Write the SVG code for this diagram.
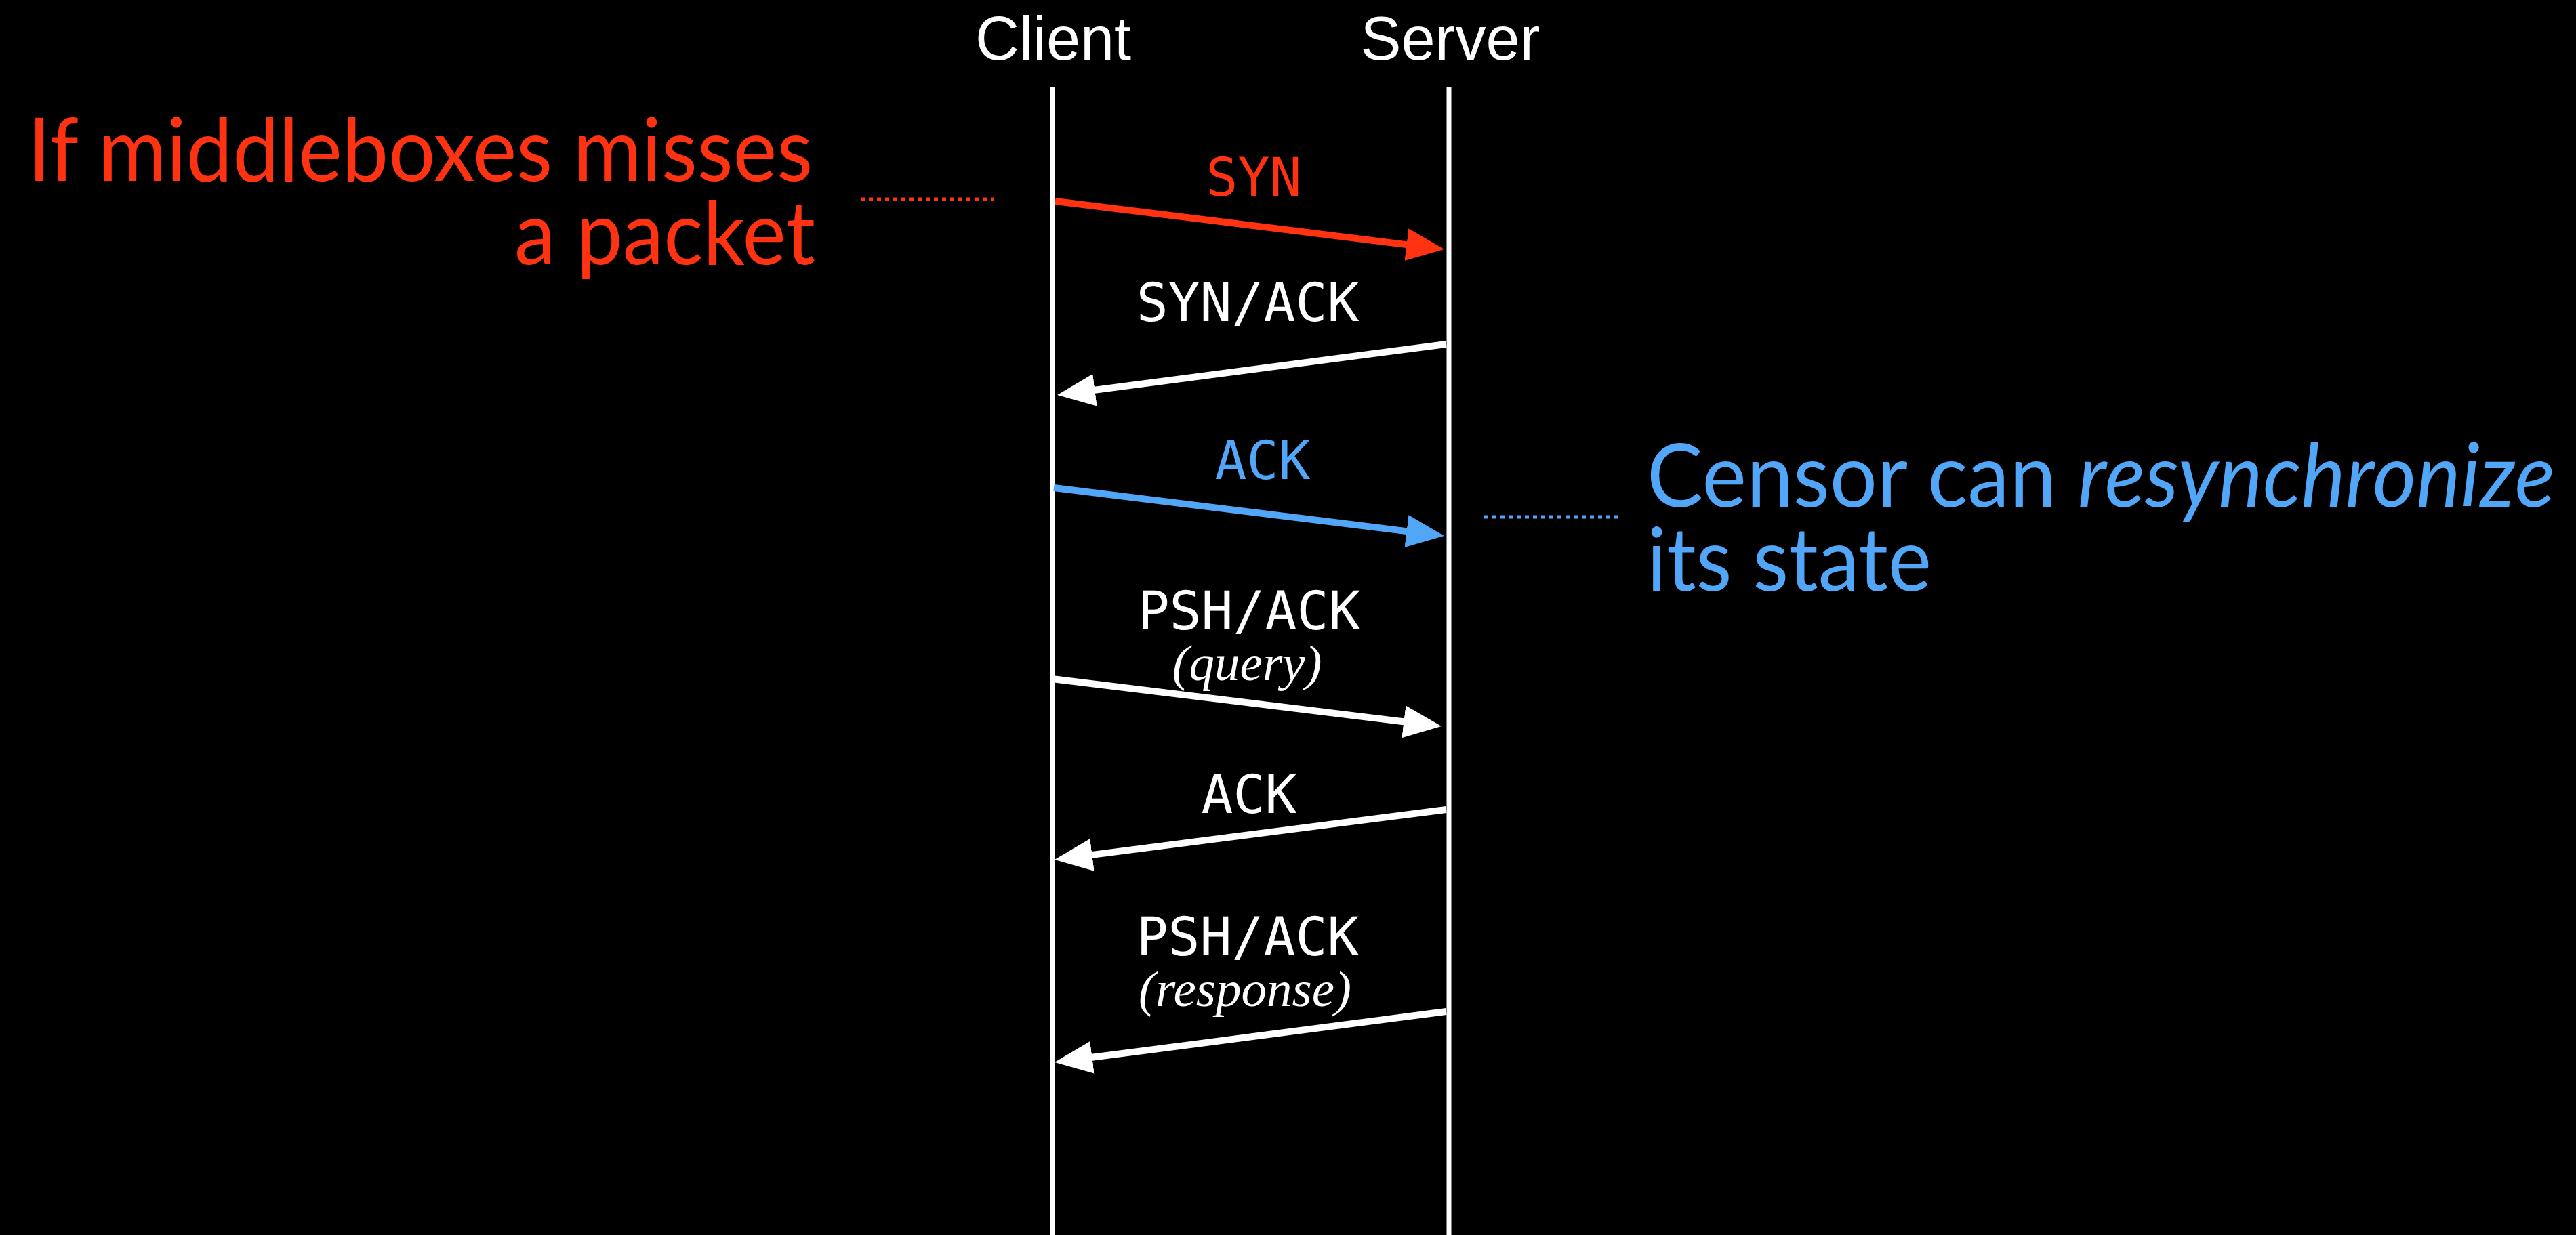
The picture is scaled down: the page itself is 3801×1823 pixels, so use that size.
<svg xmlns="http://www.w3.org/2000/svg" width="3801" height="1823" viewBox="0 0 3801 1823">
<style>
.hdr{font-family:"Liberation Sans",Arial,sans-serif;font-size:90px;fill:#fff;text-anchor:middle}
.lbl{font-family:"DejaVu Sans Mono","Liberation Mono",monospace;font-size:78px;text-anchor:middle}
.sub{font-family:"Liberation Serif","Times New Roman",serif;font-style:italic;font-size:75px;fill:#fff;text-anchor:middle}
.big{font-family:Lato,"Open Sans",sans-serif;font-size:130px}
.life{stroke:#fff;stroke-width:7;fill:none}
.msg{stroke-width:10;fill:none}
.w{fill:#fff}.r{fill:#FF3211}.b{fill:#52A6F8}
</style>
<defs>
<marker id="hw" markerUnits="userSpaceOnUse" markerWidth="56" markerHeight="48" refX="8" refY="24" orient="auto"><path d="M0,0 L56,24 L0,48 Z" fill="#fff"/></marker>
<marker id="hr" markerUnits="userSpaceOnUse" markerWidth="56" markerHeight="48" refX="8" refY="24" orient="auto"><path d="M0,0 L56,24 L0,48 Z" fill="#FF3211"/></marker>
<marker id="hb" markerUnits="userSpaceOnUse" markerWidth="56" markerHeight="48" refX="8" refY="24" orient="auto"><path d="M0,0 L56,24 L0,48 Z" fill="#52A6F8"/></marker>
</defs>
<rect x="0" y="0" width="3801" height="1823" fill="#000"/>
<g id="client">
<text class="hdr" x="1554" y="88">Client</text>
<line class="life" x1="1553" y1="128" x2="1553" y2="1823"/>
</g>
<g id="server">
<text class="hdr" x="2140" y="88">Server</text>
<line class="life" x1="2138" y1="128" x2="2138" y2="1823"/>
</g>
<g id="note-miss">
<text class="big r" text-anchor="end" x="1199" y="267" textLength="1158" lengthAdjust="spacingAndGlyphs">If middleboxes misses</text>
<text class="big r" text-anchor="end" x="1203" y="390" textLength="444" lengthAdjust="spacingAndGlyphs">a packet</text>
</g>
<g id="note-resync">
<text class="big b" x="2430" y="748" textLength="1340" lengthAdjust="spacingAndGlyphs">Censor can <tspan font-style="italic">resynchronize</tspan></text>
<text class="big b" x="2430" y="872" textLength="420" lengthAdjust="spacingAndGlyphs">its state</text>
</g>
<g id="connectors">
<line x1="1270" y1="294" x2="1466" y2="294" stroke="#FF3211" stroke-width="5" stroke-dasharray="6 6"/>
<line x1="2190" y1="763" x2="2389" y2="763" stroke="#52A6F8" stroke-width="5" stroke-dasharray="6 6"/>
<g id="m-syn">
<line class="msg" x1="1557" y1="297" x2="2083.4" y2="362.1" stroke="#FF3211" stroke-width="11" marker-end="url(#hr)"/>
<text class="lbl r" x="1850" y="289">SYN</text>
</g>
<g id="m-synack">
<line class="msg" x1="2134" y1="508" x2="1607.6" y2="576.8" stroke="#fff" marker-end="url(#hw)"/>
<text class="lbl w" x="1841" y="474">SYN/ACK</text>
</g>
<g id="m-ack">
<line class="msg" x1="1555" y1="720" x2="2083.4" y2="785.1" stroke="#52A6F8" marker-end="url(#hb)"/>
<text class="lbl b" x="1863" y="707">ACK</text>
</g>
<g id="m-query">
<line class="msg" x1="1552" y1="1002" x2="2079.3" y2="1066.2" stroke="#fff" marker-end="url(#hw)"/>
<text class="lbl w" x="1843" y="929">PSH/ACK</text>
<text class="sub" x="1840" y="1004">(query)</text>
</g>
<g id="m-ack2">
<line class="msg" x1="2134" y1="1195" x2="1603.6" y2="1262.9" stroke="#fff" marker-end="url(#hw)"/>
<text class="lbl w" x="1843" y="1200">ACK</text>
</g>
<g id="m-response">
<line class="msg" x1="2134" y1="1493" x2="1603.6" y2="1561.8" stroke="#fff" marker-end="url(#hw)"/>
<text class="lbl w" x="1841" y="1410">PSH/ACK</text>
<text class="sub" x="1837" y="1485">(response)</text>
</g>
</g>
</svg>
